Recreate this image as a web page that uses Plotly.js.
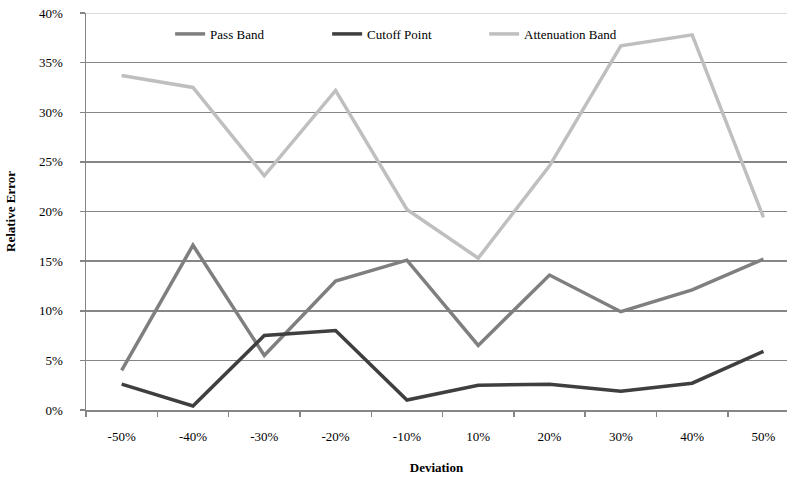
<!DOCTYPE html>
<html>
<head>
<meta charset="utf-8">
<script src="https://cdn.plot.ly/plotly-3.0.1.min.js"></script>
<style>html,body{margin:0;padding:0;background:#fff;}#chart{width:787px;height:481px;}</style>
</head>
<body>
<div id="chart"></div>
<script>
const categories = ["-50%", "-40%", "-30%", "-20%", "-10%", "10%", "20%", "30%", "40%", "50%"];
const passBand = [4.0, 16.6, 5.5, 13.0, 15.1, 6.5, 13.6, 9.9, 12.1, 15.2];
const cutoffPoint = [2.6, 0.4, 7.5, 8.0, 1.0, 2.5, 2.6, 1.9, 2.7, 5.9];
const attenuationBand = [33.7, 32.5, 23.6, 32.2, 20.2, 15.3, 24.6, 36.7, 37.8, 19.4];
const yTicks = [0, 5, 10, 15, 20, 25, 30, 35, 40];
const yTickLabels = ["0%", "5%", "10%", "15%", "20%", "25%", "30%", "35%", "40%"];

const font = {family: "Liberation Serif, Times New Roman, serif", size: 13, color: "#000"};

const traces = [
  {name: "Pass Band", x: categories, y: passBand, type: "scatter", mode: "lines",
   line: {color: "#7f7f7f", width: 3.5}},
  {name: "Cutoff Point", x: categories, y: cutoffPoint, type: "scatter", mode: "lines",
   line: {color: "#3f3f3f", width: 3.5}},
  {name: "Attenuation Band", x: categories, y: attenuationBand, type: "scatter", mode: "lines",
   line: {color: "#bfbfbf", width: 3.5}}
];

const layout = {
  width: 787, height: 481,
  margin: {l: 86, r: 0, t: 13, b: 71, pad: 0},
  paper_bgcolor: "#fff", plot_bgcolor: "#fff",
  font: font,
  showlegend: true,
  legend: {orientation: "h", x: 0.12, y: 0.985, xanchor: "left", yanchor: "top",
           font: font, bgcolor: "rgba(0,0,0,0)", entrywidth: 112, entrywidthmode: "pixels",
           traceorder: "normal"},
  xaxis: {
    type: "category", range: [-0.5, 9.33],
    showline: true, linecolor: "#868686", linewidth: 1.5,
    showgrid: false, zeroline: false,
    ticks: "outside", ticklen: 5, tickcolor: "#868686", tickwidth: 1.5,
    tickson: "boundaries", ticklabelstandoff: 14,
    tickfont: font,
    title: {text: "<b>Deviation</b>", font: font, standoff: 20}
  },
  yaxis: {
    range: [0, 40], tickmode: "array", tickvals: yTicks, ticktext: yTickLabels,
    showline: true, linecolor: "#868686", linewidth: 1.5,
    showgrid: true, gridcolor: "#868686", gridwidth: 1.5,
    zeroline: false,
    ticks: "outside", ticklen: 5, tickcolor: "#868686", tickwidth: 1.5,
    ticklabelstandoff: 14,
    tickfont: font,
    title: {text: "<b>Relative Error</b>", font: font, standoff: 20}
  },
  shapes: [
    {type: "line", xref: "paper", yref: "y", x0: 0, x1: 1, y0: 40, y1: 40,
     line: {color: "#dcdcdc", width: 2}, layer: "below"}
  ]
};

Plotly.newPlot("chart", traces, layout, {displayModeBar: false, staticPlot: true});
</script>
</body>
</html>
